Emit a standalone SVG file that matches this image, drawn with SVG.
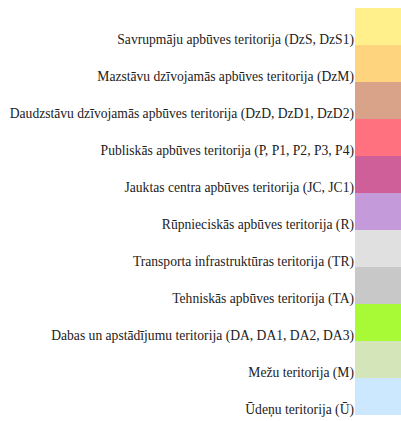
<svg xmlns="http://www.w3.org/2000/svg" width="401" height="421" viewBox="0 0 401 421">
<style>
text{font-family:'Liberation Serif','Times New Roman',serif;font-size:13.6px;fill:#222;text-anchor:end}
</style>
<rect width="401" height="421" fill="#fff"/>
<g id="n1"><rect x="355" y="8" width="46" height="37" fill="#FFF08C"/><text x="354" y="44">Savrupmāju apbūves teritorija (DzS, DzS1)</text></g>
<g id="n2"><rect x="355" y="45" width="46" height="37" fill="#FFD47F"/><text x="354" y="81">Mazstāvu dzīvojamās apbūves teritorija (DzM)</text></g>
<g id="n3"><rect x="355" y="82" width="46" height="37" fill="#D9A38A"/><text x="354" y="118">Daudzstāvu dzīvojamās apbūves teritorija (DzD, DzD1, DzD2)</text></g>
<g id="n4"><rect x="355" y="119" width="46" height="37" fill="#FF717F"/><text x="354" y="155">Publiskās apbūves teritorija (P, P1, P2, P3, P4)</text></g>
<g id="n5"><rect x="355" y="156" width="46" height="37" fill="#CF5F99"/><text x="354" y="192">Jauktas centra apbūves teritorija (JC, JC1)</text></g>
<g id="n6"><rect x="355" y="193" width="46" height="37" fill="#C49ADA"/><text x="354" y="229">Rūpnieciskās apbūves teritorija (R)</text></g>
<g id="n7"><rect x="355" y="230" width="46" height="37" fill="#E0E0E0"/><text x="354" y="266">Transporta infrastruktūras teritorija (TR)</text></g>
<g id="n8"><rect x="355" y="267" width="46" height="37" fill="#C8C8C8"/><text x="354" y="303">Tehniskās apbūves teritorija (TA)</text></g>
<g id="n9"><rect x="355" y="304" width="46" height="37" fill="#A8FA37"/><text x="354" y="340">Dabas un apstādījumu teritorija (DA, DA1, DA2, DA3)</text></g>
<g id="n10"><rect x="355" y="341" width="46" height="37" fill="#D3E5B9"/><text x="354" y="377">Mežu teritorija (M)</text></g>
<g id="n11"><rect x="355" y="378" width="46" height="37" fill="#CCE8FF"/><text x="354" y="414">Ūdeņu teritorija (Ū)</text></g>
<g id="connectors"/>
</svg>
